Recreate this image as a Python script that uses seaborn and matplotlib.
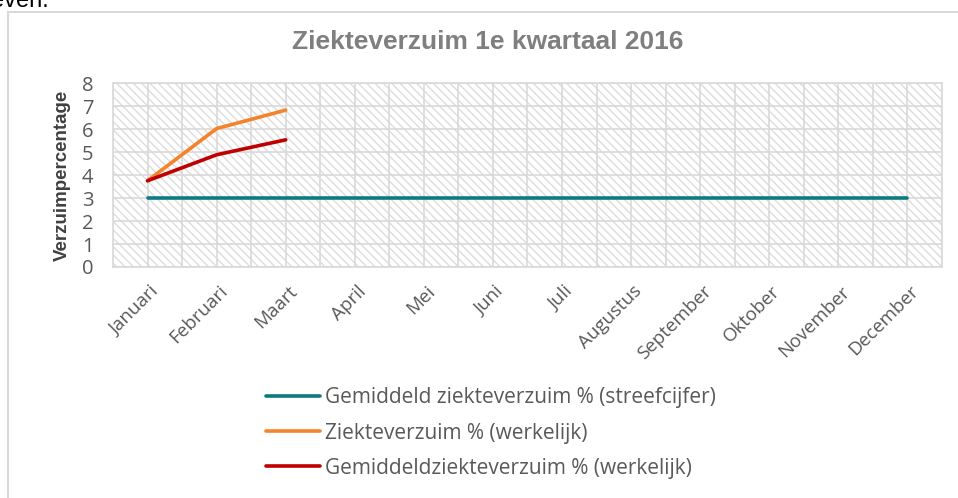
"""Ziekteverzuim 1e kwartaal 2016 - line chart recreation."""
import numpy as np
import pandas as pd
import matplotlib
matplotlib.use("Agg")
import matplotlib.pyplot as plt
import matplotlib.transforms as mtransforms
from matplotlib.patches import Rectangle
import seaborn as sns

# ---------------------------------------------------------------------------
# Data
# ---------------------------------------------------------------------------
months = ['Januari', 'Februari', 'Maart', 'April', 'Mei', 'Juni', 'Juli',
          'Augustus', 'September', 'Oktober', 'November', 'December']
streef = [3, 3, 3, 3, 3, 3, 3, 3, 3, 3, 3, 3]
werkelijk = [3.75, 6.02, 6.82]
gem_werkelijk = [3.75, 4.88, 5.53]

series_names = ['Gemiddeld ziekteverzuim % (streefcijfer)',
                'Ziekteverzuim % (werkelijk)',
                'Gemiddeldziekteverzuim % (werkelijk)']
series_colors = ['#0B7B80', '#F5832A', '#C00000']

rows = []
for name, vals in zip(series_names, [streef, werkelijk, gem_werkelijk]):
    for i, v in enumerate(vals):
        rows.append({'maand_idx': i, 'maand': months[i], 'waarde': v, 'reeks': name})
df = pd.DataFrame(rows)

# ---------------------------------------------------------------------------
# Figure
# ---------------------------------------------------------------------------
sns.set_theme(style='white')
plt.rcParams['font.family'] = ['Open Sans', 'DejaVu Sans']
plt.rcParams['hatch.color'] = '#dcdcdc'
plt.rcParams['hatch.linewidth'] = 1.0

W, H = 958, 498
fig = plt.figure(figsize=(W / 100, H / 100), dpi=100)
ax = fig.add_axes([113 / W, 1 - 267 / H, (942 - 113) / W, (267 - 83) / H])

# hatched plot background
ax.patch.set_facecolor('white')
ax.patch.set_hatch('\\\\\\\\')
ax.patch.set_edgecolor('#dcdcdc')
ax.patch.set_linewidth(0)

sns.lineplot(data=df, x='maand_idx', y='waarde', hue='reeks',
             hue_order=series_names, palette=series_colors,
             linewidth=2.6, ax=ax, legend=False, sort=False,
             solid_capstyle='round')

ax.set_xlim(-0.5, 11.5)
ax.set_ylim(0, 8)
ax.set_xticks(range(len(months)))
ax.set_xticklabels(months, rotation=45, ha='right', rotation_mode='anchor',
                   fontsize=13.5, color='#595959')
ax.set_xticks(np.arange(-0.5, 11.6, 1.0), minor=True)
ax.set_yticks(range(0, 9))
ax.tick_params(axis='y', labelsize=14.5, labelcolor='#595959', pad=14, length=0)
ax.tick_params(axis='x', pad=11, length=0, which='both')
ax.grid(True, which='both', color='#d9d9d9', linewidth=1.2)
ax.set_axisbelow(True)
for s in ax.spines.values():
    s.set_color('#d9d9d9')
    s.set_linewidth(1.2)

# nudge the rotated month labels slightly to the right, like the original
shift = mtransforms.ScaledTranslation(2 / 100, 0, fig.dpi_scale_trans)
for lbl in ax.get_xticklabels():
    lbl.set_transform(lbl.get_transform() + shift)

ax.set_xlabel('')
ax.set_ylabel('Verzuimpercentage', fontsize=13.5, fontweight='bold',
              color='#404040', labelpad=8,
              family=['Liberation Sans Narrow', 'Liberation Sans', 'DejaVu Sans'])

fig.text(488 / W, 1 - 42 / H, 'Ziekteverzuim 1e kwartaal 2016',
         ha='center', va='center', fontsize=19, fontweight='bold',
         color='#7f7f7f', family=['Liberation Sans', 'DejaVu Sans'])

# legend below the plot
handles = [plt.Line2D([], [], color=c, linewidth=2.6) for c in series_colors]
fig.legend(handles, series_names, loc='center left',
           bbox_to_anchor=(266 / W, 1 - 433 / H), frameon=False,
           fontsize=15, labelcolor='#595959', handlelength=2.6,
           handletextpad=0.24, labelspacing=0.68, borderpad=0,
           borderaxespad=0)

# chart frame and surrounding document text
fig.patches.append(Rectangle((8 / W, -0.1), 1.0, 1 - 12 / H + 0.1,
                             transform=fig.transFigure, fill=False,
                             edgecolor='#d9d9d9', linewidth=1.5))
fig.text(-9 / W, 1 - 7 / H, 'even.', ha='left', va='baseline', fontsize=17,
         color='black', family=['Liberation Sans', 'DejaVu Sans'])

fig.savefig('out.png', dpi=100)
